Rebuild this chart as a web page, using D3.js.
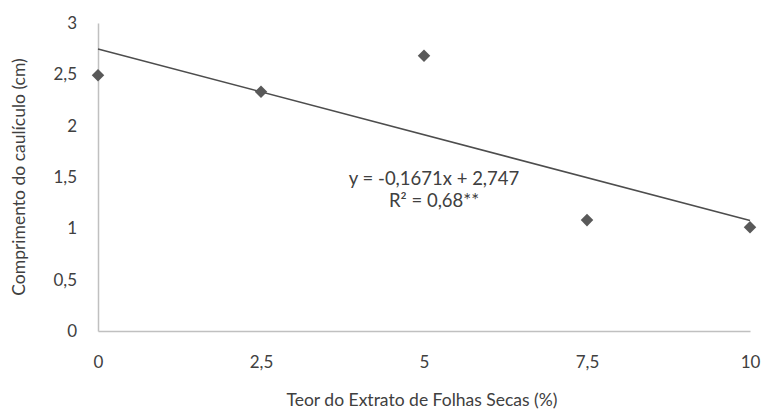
<!DOCTYPE html>
<html>
<head>
<meta charset="utf-8">
<script src="https://cdn.jsdelivr.net/npm/d3@7"></script>
<style>
  body { margin: 0; background: #fff; }
  text { font-family: Lato, "Open Sans", sans-serif; fill: #404040; }
</style>
</head>
<body>
<svg width="764" height="412"></svg>
<script>
// data
var teor = [0, 2.5, 5, 7.5, 10];
var comprimento = [2.49, 2.33, 2.68, 1.08, 1.01];
var xTicks = [0, 2.5, 5, 7.5, 10];
var yTicks = [0, 0.5, 1, 1.5, 2, 2.5, 3];
var slope = -0.1671, intercept = 2.747;

var svg = d3.select("svg"),
    margin = {left: 98, right: 14, top: 23, bottom: 81},
    width = 764 - margin.left - margin.right,
    height = 412 - margin.top - margin.bottom;

var g = svg.append("g").attr("transform", "translate(" + margin.left + "," + margin.top + ")");

var x = d3.scaleLinear().domain([0, 10]).range([0, width]);
var y = d3.scaleLinear().domain([0, 3]).range([height, 0]);
var fmt = function(d) { return String(d).replace(".", ","); };

// axes
var xAxis = g.append("g").attr("transform", "translate(0," + height + ")")
    .call(d3.axisBottom(x).tickValues(xTicks).tickFormat(fmt).tickSize(0).tickPadding(25));
var yAxis = g.append("g")
    .call(d3.axisLeft(y).tickValues(yTicks).tickFormat(fmt).tickSize(0).tickPadding(21));
[xAxis, yAxis].forEach(function(a) {
  a.select(".domain").attr("stroke", "#c0c0c0").attr("stroke-width", 1.5);
  a.selectAll("text").attr("font-size", 17).attr("fill", "#404040")
    .style("font-family", "Lato, 'Open Sans', sans-serif");
});

// trend line
g.append("line")
    .attr("x1", x(0)).attr("y1", y(intercept))
    .attr("x2", x(10)).attr("y2", y(intercept + slope * 10))
    .attr("stroke", "#4d4d4d").attr("stroke-width", 1.5);

// points
g.selectAll(".pt").data(teor).enter().append("path")
    .attr("class", "pt")
    .attr("d", d3.symbol().type(d3.symbolDiamond2).size(100))
    .attr("transform", function(d, i) { return "translate(" + x(d) + "," + y(comprimento[i]) + ")"; })
    .attr("fill", "#595959");

// equation
g.append("text").attr("x", 336).attr("y", 162)
    .attr("text-anchor", "middle").attr("font-size", 18.5)
    .text("y = -0,1671x + 2,747");
g.append("text").attr("x", 336).attr("y", 184)
    .attr("text-anchor", "middle").attr("font-size", 18.5)
    .text("R² = 0,68**");

// titles
svg.append("text").attr("x", margin.left + width / 2 - 2).attr("y", 406)
    .attr("text-anchor", "middle").attr("font-size", 17.5)
    .text("Teor do Extrato de Folhas Secas (%)");
svg.append("text").attr("transform", "translate(25," + (margin.top + height / 2) + ") rotate(-90)")
    .attr("text-anchor", "middle").attr("font-size", 17.5)
    .text("Comprimento do caulículo (cm)");
</script>
</body>
</html>
